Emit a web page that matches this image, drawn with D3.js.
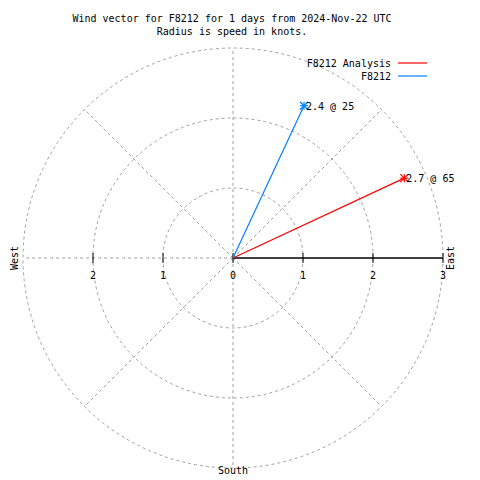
<!DOCTYPE html>
<html><head><meta charset="utf-8">
<script src="https://cdn.jsdelivr.net/npm/d3@7"></script>
<style>body{margin:0;background:#fff}svg{display:block}text{font-family:"DejaVu Sans Mono","Liberation Mono",monospace;font-size:10px;fill:#000}</style>
</head><body><svg id="c" width="480" height="480"></svg>
<script>
const titleLines = ["Wind vector for F8212 for 1 days from 2024-Nov-22 UTC", "Radius is speed in knots."];
const seriesNames = ["F8212 Analysis", "F8212"];
const seriesColors = ["#ff0000", "#0080ff"];
const speeds = [2.7, 2.4];
const directions = [65, 25];
const radialTicks = [0, 1, 2, 3];
const gridAngles = [0, 45, 90, 135, 180, 225, 270, 315];

const svg = d3.select("#c");
const cx = 233, cy = 258;
const r = d3.scaleLinear().domain([0, 3]).range([0, 210]);
const pt = (spd, deg) => { const a = deg * Math.PI / 180; return [cx + r(spd) * Math.sin(a), cy - r(spd) * Math.cos(a)]; };
const grid = "#a0a0a0";

// circles
svg.selectAll("circle.g").data(radialTicks.filter(d => d > 0)).join("circle")
  .attr("cx", cx).attr("cy", cy).attr("r", d => r(d))
  .attr("fill", "none").attr("stroke", grid).attr("stroke-dasharray", "3,3");
// radial grid lines (east one drawn as solid axis)
svg.selectAll("line.g").data(gridAngles.filter(a => a !== 90)).join("line")
  .attr("x1", cx).attr("y1", cy)
  .attr("x2", d => pt(3, d)[0]).attr("y2", d => pt(3, d)[1])
  .attr("stroke", grid).attr("stroke-dasharray", "3,3");
// axis east
svg.append("line").attr("x1", cx).attr("y1", cy).attr("x2", cx + r(3)).attr("y2", cy).attr("stroke", "#000").attr("stroke-width", 1.5);
// ticks both sides
const tickVals = [-2, -1, 0, 1, 2, 3];
svg.selectAll("line.t").data(tickVals).join("line")
  .attr("x1", d => cx + r(Math.abs(d)) * Math.sign(d)).attr("x2", d => cx + r(Math.abs(d)) * Math.sign(d))
  .attr("y1", cy - 5).attr("y2", cy + 5).attr("stroke", "#000");
svg.selectAll("text.t").data(tickVals).join("text")
  .attr("x", d => cx + r(Math.abs(d)) * Math.sign(d)).attr("y", cy + 21)
  .attr("text-anchor", "middle").text(d => Math.abs(d));

// compass labels
svg.append("text").attr("transform", `translate(18,${cy}) rotate(-90)`).attr("text-anchor", "middle").text("West");
svg.append("text").attr("transform", `translate(454,${cy}) rotate(-90)`).attr("text-anchor", "middle").text("East");
svg.append("text").attr("x", cx).attr("y", 474).attr("text-anchor", "middle").text("South");

// title
svg.selectAll("text.title").data(titleLines).join("text")
  .attr("x", 232).attr("y", (d, i) => 22 + i * 13).attr("text-anchor", "middle").text(d => d);

// vectors
seriesNames.forEach((n, i) => {
  const [x, y] = pt(speeds[i], directions[i]);
  svg.append("line").attr("x1", cx).attr("y1", cy).attr("x2", x).attr("y2", y).attr("stroke", seriesColors[i]).attr("stroke-width", 1.2);
  const s = 4;
  const g = svg.append("g").attr("stroke", seriesColors[i]).attr("stroke-width", 1.2);
  g.append("line").attr("x1", x - s).attr("x2", x + s).attr("y1", y).attr("y2", y);
  g.append("line").attr("x1", x).attr("x2", x).attr("y1", y - s).attr("y2", y + s);
  g.append("line").attr("x1", x - s).attr("x2", x + s).attr("y1", y - s).attr("y2", y + s);
  g.append("line").attr("x1", x - s).attr("x2", x + s).attr("y1", y + s).attr("y2", y - s);
  svg.append("text").attr("x", x + 2).attr("y", y + 4).text(`${speeds[i]} @ ${directions[i]}`);
});

// legend
seriesNames.forEach((n, i) => {
  const y = 63 + i * 13;
  svg.append("text").attr("x", 391).attr("y", y + 4).attr("text-anchor", "end").text(n);
  svg.append("line").attr("x1", 398).attr("x2", 427).attr("y1", y).attr("y2", y).attr("stroke", seriesColors[i]).attr("stroke-width", 1.2);
});
</script></body></html>
